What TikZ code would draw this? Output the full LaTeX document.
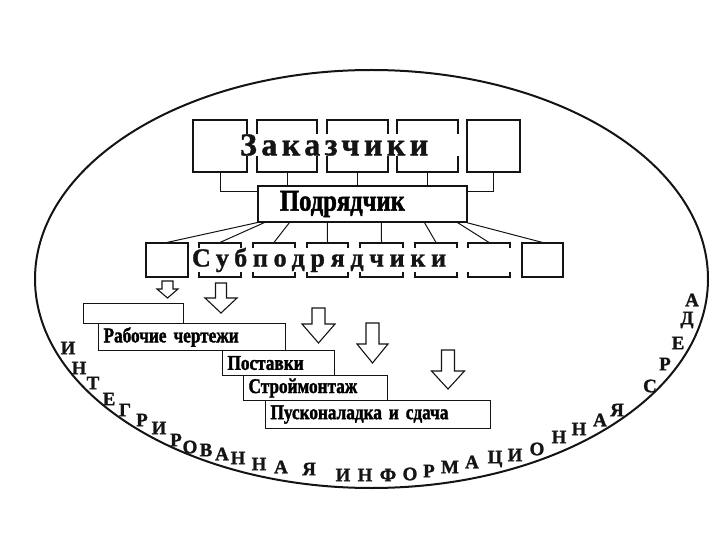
\documentclass[tikz,border=0pt]{standalone}
\usepackage{fontspec}
\setmainfont{Liberation Serif}
\newfontfamily\condbold[FakeStretch=0.82,FakeBold=1.6]{Liberation Serif Bold}
\newfontfamily\spacedbold[LetterSpace=14,FakeBold=1.2]{Liberation Serif Bold}
\newfontfamily\ringbold[FakeBold=1.4]{Liberation Serif Bold}
\usetikzlibrary{calc}
\definecolor{ink}{HTML}{141414}

\begin{document}
\begin{tikzpicture}[x=1pt,y=-1pt,
  frame/.style={draw=ink,line width=1.1pt,fill=white,inner sep=0pt},
  stair/.style={frame,anchor=north west,inner xsep=5pt,inner ysep=0pt,align=left,
    font=\condbold\fontsize{21}{21}\selectfont},
  link/.style={draw=ink,line width=1pt},
  strip/.style={fill=white,inner ysep=0pt,align=left,text=ink},
  bigarrow/.style={draw=ink,line width=1.1pt,fill=white,line join=miter},
  ring/.style={text=ink,inner sep=0pt,font=\ringbold\fontsize{19}{19}\selectfont}]
  \useasboundingbox (0,0) rectangle (720,540);
  \draw[ink,line width=2pt] (371.5,279) ellipse [x radius=336.5,y radius=209];
  % customers
  \foreach \n/\x/\w in {1/220/54,2/287/60,3/357.5/61,4/427.5/61,5/493.5/53}
    \node[frame,minimum width=\w,minimum height=52] (cust\n) at (\x,146) {};
  \node[frame,minimum width=209,minimum height=36,inner xsep=22pt,text width=165,align=left,
    font=\condbold\fontsize{30}{30}\selectfont] (contr) at (362.5,204) {Подрядчик};
  \draw[link] (cust1.south) |- ([yshift=-6pt]contr.north west);
  \draw[link] (cust5.south) |- ([yshift=-6pt]contr.north east);
  \foreach \n in {2,3,4}
    \draw[link] (cust\n.south) -- (cust\n.south |- contr.north);
  \node[strip,inner xsep=4pt,text width=218,
    font=\spacedbold\fontsize{32}{32}\selectfont] (custlabel) at (349,145) {Заказчики};
  % subcontractors
  \foreach \n/\x/\w in {1/167/42,2/220/42,3/274/42,4/327.5/41,5/381.5/43,6/436/42,7/489/42,8/542.5/41}
    \node[frame,minimum width=\w,minimum height=34] (sub\n) at (\x,260) {};
  \foreach \n/\s in {1/0,2/7,3/32,4/70,5/124,6/167,7/200,8/209}
    \draw[link] ([xshift=\s pt]contr.south west) -- (sub\n.north);
  \node[strip,inner xsep=2pt,text width=321,
    font=\spacedbold\addfontfeature{LetterSpace=22}\fontsize{26}{26}\selectfont]
    (sublabel) at (352.5,260) {Субподрядчики};
  % stages
  \node[stair,minimum height=20,text width=90] (stair0) at (83,303) {};
  \node[stair,minimum height=27,text width=177] (stair1) at (98,323) {Рабочие чертежи};
  \node[stair,minimum height=25,text width=102] (stair2) at (222,350) {Поставки};
  \node[stair,minimum height=25,text width=134] (stair3) at (243,375) {Строймонтаж};
  \node[stair,minimum height=28,text width=215] (stair4) at (265,400) {Пусконаладка и сдача};
  \foreach \xa/\ya/\yb/\hw/\sw/\hh in {167.5/281/298/10.5/5.5/9,221/283/313/16/5.5/15,
      318.5/308/343/16.5/6.5/19,372.5/323/363/15.5/6.5/19,448/350/389/16.5/6.5/18}
    \draw[bigarrow] (\xa-\sw,\ya) -- (\xa+\sw,\ya) -- (\xa+\sw,\yb-\hh) -- (\xa+\hw,\yb-\hh)
      -- (\xa,\yb) -- (\xa-\hw,\yb-\hh) -- (\xa-\sw,\yb-\hh) -- cycle;
  % letters round the ellipse
  \foreach \ch/\x/\y [count=\i] in {И/68/348,Н/79/368,Т/93/383,Е/109/399,Г/125/410,Р/142/420,
      И/159/428,Р/176/440,О/190/447,В/206/450,А/222/454,Н/238/458,Н/259/464,А/281/467,Я/309/469,
      И/343/475,Н/365/475,Ф/388/475,О/410/474,Р/429/471,М/450/467,А/472/462,Ц/495/459,И/515/455,
      О/537/449,Н/559/437,Н/579/429,А/600/420,Я/617/410,С/650/386,Р/665/364,Е/678/343,Д/687/320,А/692/300}
    \node[ring] (ring\i) at (\x,\y) {\ch};
\end{tikzpicture}
\end{document}
